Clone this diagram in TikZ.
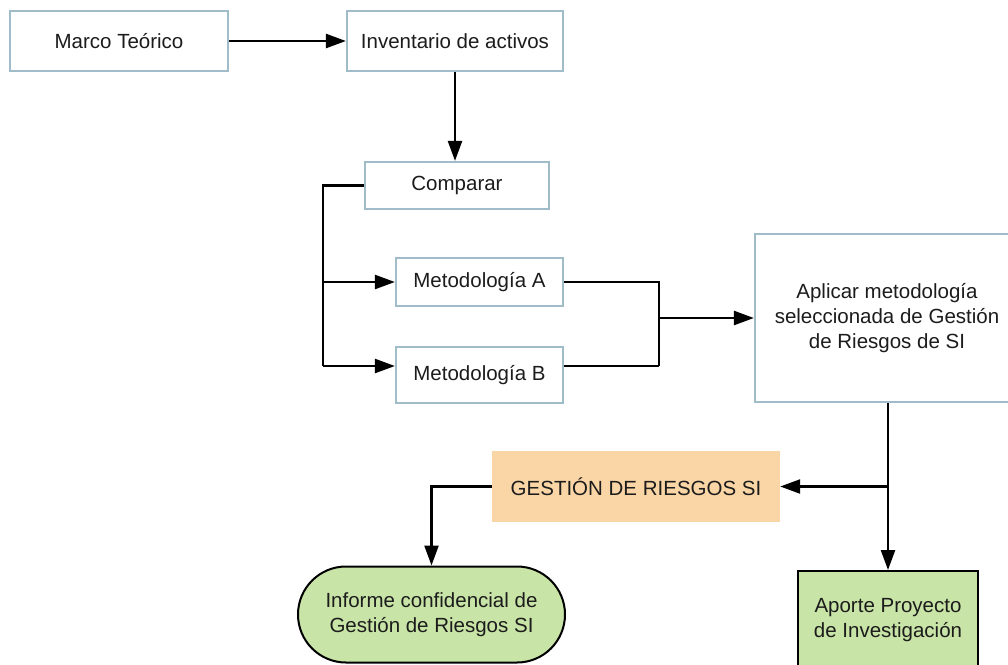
\documentclass[tikz,border=0pt]{standalone}
\usepackage{fontspec}
\setmainfont{Liberation Sans}
\usetikzlibrary{arrows.meta,shapes.misc}
\definecolor{boxline}{HTML}{A0BCC8}
\definecolor{peach}{HTML}{FAD6A6}
\definecolor{leaf}{HTML}{C8E4A6}
\definecolor{ink}{HTML}{1C1C1C}
\tikzset{
  every node/.style={font=\fontsize{20.5}{25}\selectfont, text=ink, align=center, inner sep=0pt},
  stepbox/.style={draw=boxline, line width=2.2pt, fill=white, rectangle},
  resultbox/.style={draw=black, line width=2pt, fill=leaf},
  conn/.style={draw=black, line width=2.4pt},
  arr/.style={conn, -{Triangle[length=20pt,width=14pt]}}
}
\begin{document}
\begin{tikzpicture}[x=1pt,y=-1pt]
\useasboundingbox (0,0) rectangle (1008,664);
\fill[white] (0,0) rectangle (1008,664);
\clip (0,0) rectangle (1008,664);

% process boxes
\node[stepbox, minimum width=218, minimum height=60] (marco) at (119,41) {Marco Teórico};
\node[stepbox, minimum width=216, minimum height=60] (inv) at (455,41) {Inventario de activos};
\node[stepbox, minimum width=184, minimum height=47] (comp) at (457,185.5) {Comparar};
\node[stepbox, minimum width=167, minimum height=48] (metA) at (479.5,282) {Metodología A};
\node[stepbox, minimum width=167, minimum height=56] (metB) at (479.5,375) {Metodología B};
\node[stepbox, minimum width=264, minimum height=168] (apl) at (887,318)
  {Aplicar metodología\\seleccionada de Gestión\\de Riesgos de SI};
\node[fill=peach, minimum width=288, minimum height=71] (gest) at (636,486.5) {GESTIÓN DE RIESGOS SI};
\node[resultbox, rounded rectangle, minimum width=267, minimum height=96] (informe) at (431.5,614.5)
  {Informe confidencial de\\Gestión de Riesgos SI};
\node[resultbox, minimum width=180, minimum height=126] (aporte) at (888,634)
  {Aporte Proyecto\\de Investigación\\\strut};

% junction points of the branching lines
\coordinate (jl) at (323,366);
\coordinate (jr) at (659,366);

% connectors
\draw[arr] (marco) -- (inv);
\draw[arr] (inv.south) -- (inv.south |- comp.north);
\draw[conn] (comp.west) -| (jl);
\draw[arr] (jl) -- (jl -| metB.west);
\draw[arr] (jl |- metA.west) -- (metA.west);
\draw[conn] (metA.east) -| (jr);
\draw[conn] (jr) -- (jr -| metB.east);
\draw[arr] (jr |- apl.west) -- (apl.west);
\draw[arr] (aporte.north |- apl.south) -- (aporte.north);
\draw[arr] (aporte.north |- gest.east) -- (gest.east);
\draw[arr] (gest.west) -| (informe.north);
\end{tikzpicture}
\end{document}
